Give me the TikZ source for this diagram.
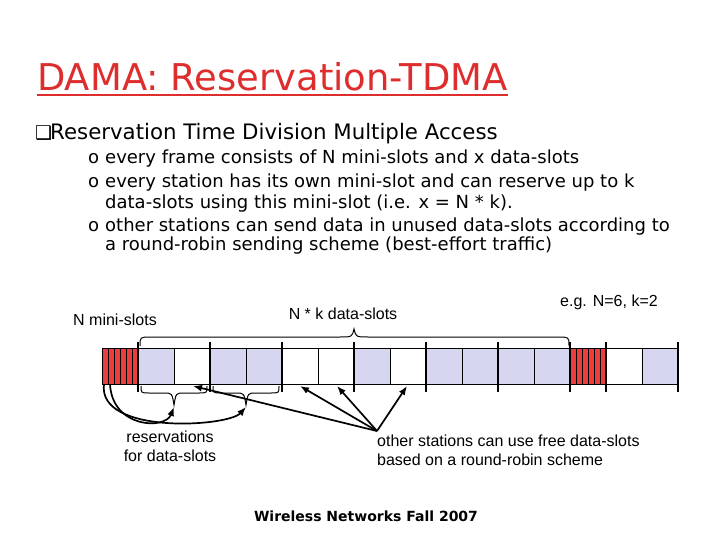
\documentclass[tikz,border=0pt]{standalone}
\usepackage{fontspec}
\setmainfont{DejaVu Sans}
\newfontfamily\arialf{Liberation Sans}
\usetikzlibrary{arrows.meta}
\definecolor{titlered}{RGB}{222,45,45}
\definecolor{slotblue}{RGB}{214,214,240}
\definecolor{minired}{RGB}{236,62,62}
\begin{document}
\begin{tikzpicture}[x=1pt,y=-1pt,
  bodytxt/.style={anchor=base west, inner sep=0pt, font=\fontsize{18}{21}\selectfont},
  lbl/.style={inner sep=0pt, font=\arialf\fontsize{16}{19}\selectfont, align=center},
  slotbox/.style={draw=black, line width=0.8pt},
  bar/.style={line width=2.4pt},
  brc/.style={line width=1pt},
  arr/.style={line width=1.7pt, -{Latex[length=9pt,width=7pt]}}
]
\useasboundingbox (0,0) rectangle (720,540);

% title
\node[anchor=base west, inner sep=0pt, text=titlered, font=\fontsize{36.9}{40}\selectfont] (title) at (37,91) {DAMA: Reservation-TDMA};
\draw[titlered, line width=2pt] ([yshift=-4pt]title.base west) -- ([yshift=-4pt]title.base east);

% bullets
\node[anchor=base west, inner sep=0pt, font=\fontsize{19}{22}\selectfont] (sq) at (35,140) {❑};
\node[anchor=base west, inner sep=0pt, font=\fontsize{21.3}{25}\selectfont] (b0) at (50,140) {Reservation Time Division Multiple Access};
\node[bodytxt] (o1) at (88,164) {o};
\node[bodytxt] (l1) at (105,164) {every frame consists of N mini-slots and x data-slots};
\node[bodytxt] (o2) at (88,188) {o};
\node[bodytxt] (l2) at (105,188) {every station has its own mini-slot and can reserve up to k};
\node[bodytxt] (l3) at (105,209) {data-slots using this mini-slot (i.e. x = N * k).};
\node[bodytxt] (o3) at (88,231) {o};
\node[bodytxt] (l4) at (105,231) {other stations can send data in unused data-slots according to};
\node[bodytxt] (l5) at (105,251) {a round-robin sending scheme (best-effort traffic)};

% labels
\node[lbl, anchor=base] (nmini) at (115,325) {N mini-slots};
\node[lbl, anchor=base] (nk) at (343,319) {N * k data-slots};
\node[lbl, anchor=base] (eg) at (609,306) {e.g. N=6, k=2};
\node[lbl, anchor=north] (resv) at (170,431) {reservations\\for data-slots};
\node[lbl, anchor=north west, align=left] (other) at (377,435) {other stations can use free data-slots\\based on a round-robin scheme};

% data slots
\foreach \x/\c in {138/slotblue,174/white,210/slotblue,246/slotblue,282/white,318/white,354/slotblue,390/white,426/slotblue,462/slotblue,498/slotblue,534/slotblue,606/white,642/slotblue}
  \draw[slotbox, fill=\c] (\x,348) rectangle ++(36,36);
% mini slots
\foreach \x in {102,570} {
  \fill[minired] (\x,348) rectangle ++(36,36);
  \foreach \i in {0,...,5} \draw[line width=0.6pt] (\x+6*\i,348) rectangle ++(6,36);
  \draw[slotbox] (\x,348) rectangle ++(36,36);
}
% thick separators
\foreach \x in {138,210,282,354,426,498,570,606,678}
  \draw[bar] (\x,342) -- (\x,392);

% top brace
\draw[brc] (140,346) .. controls (140,337) .. (151,337) -- (340,337) .. controls (352,337) .. (354,329) .. controls (356,337) .. (368,337) -- (558,337) .. controls (569,337) .. (569,346);
% bottom braces
\draw[brc] (141,386) .. controls (141,393) .. (149,393) -- (164,393) .. controls (172,393) .. (174,405) .. controls (176,393) .. (184,393) -- (199,393) .. controls (207,393) .. (207,386);
\draw[brc] (213,386) .. controls (213,393) .. (221,393) -- (236,393) .. controls (244,393) .. (246,405) .. controls (248,393) .. (256,393) -- (271,393) .. controls (279,393) .. (279,386);

% reservation arrows
\coordinate (m1) at (104,384);
\coordinate (m2) at (110,384);
\coordinate (t1) at (174,407);
\coordinate (t2) at (246,407);
\draw[arr] (m2) .. controls (112,428) and (165,430) .. (t1);
\draw[arr] (m1) .. controls (97,435) and (228,427) .. (t2);

% other stations arrows
\coordinate (os) at (377,431);
\coordinate (f1) at (193,386);
\coordinate (f2) at (300,386);
\coordinate (f3) at (337,386);
\coordinate (f4) at (407,386);
\foreach \f in {f1,f2,f3,f4} \draw[arr] (os) -- (\f);

% footer
\node[anchor=base, inner sep=0pt, font=\bfseries\fontsize{14}{16}\selectfont] (foot) at (366,521) {Wireless Networks Fall 2007};
\end{tikzpicture}
\end{document}
